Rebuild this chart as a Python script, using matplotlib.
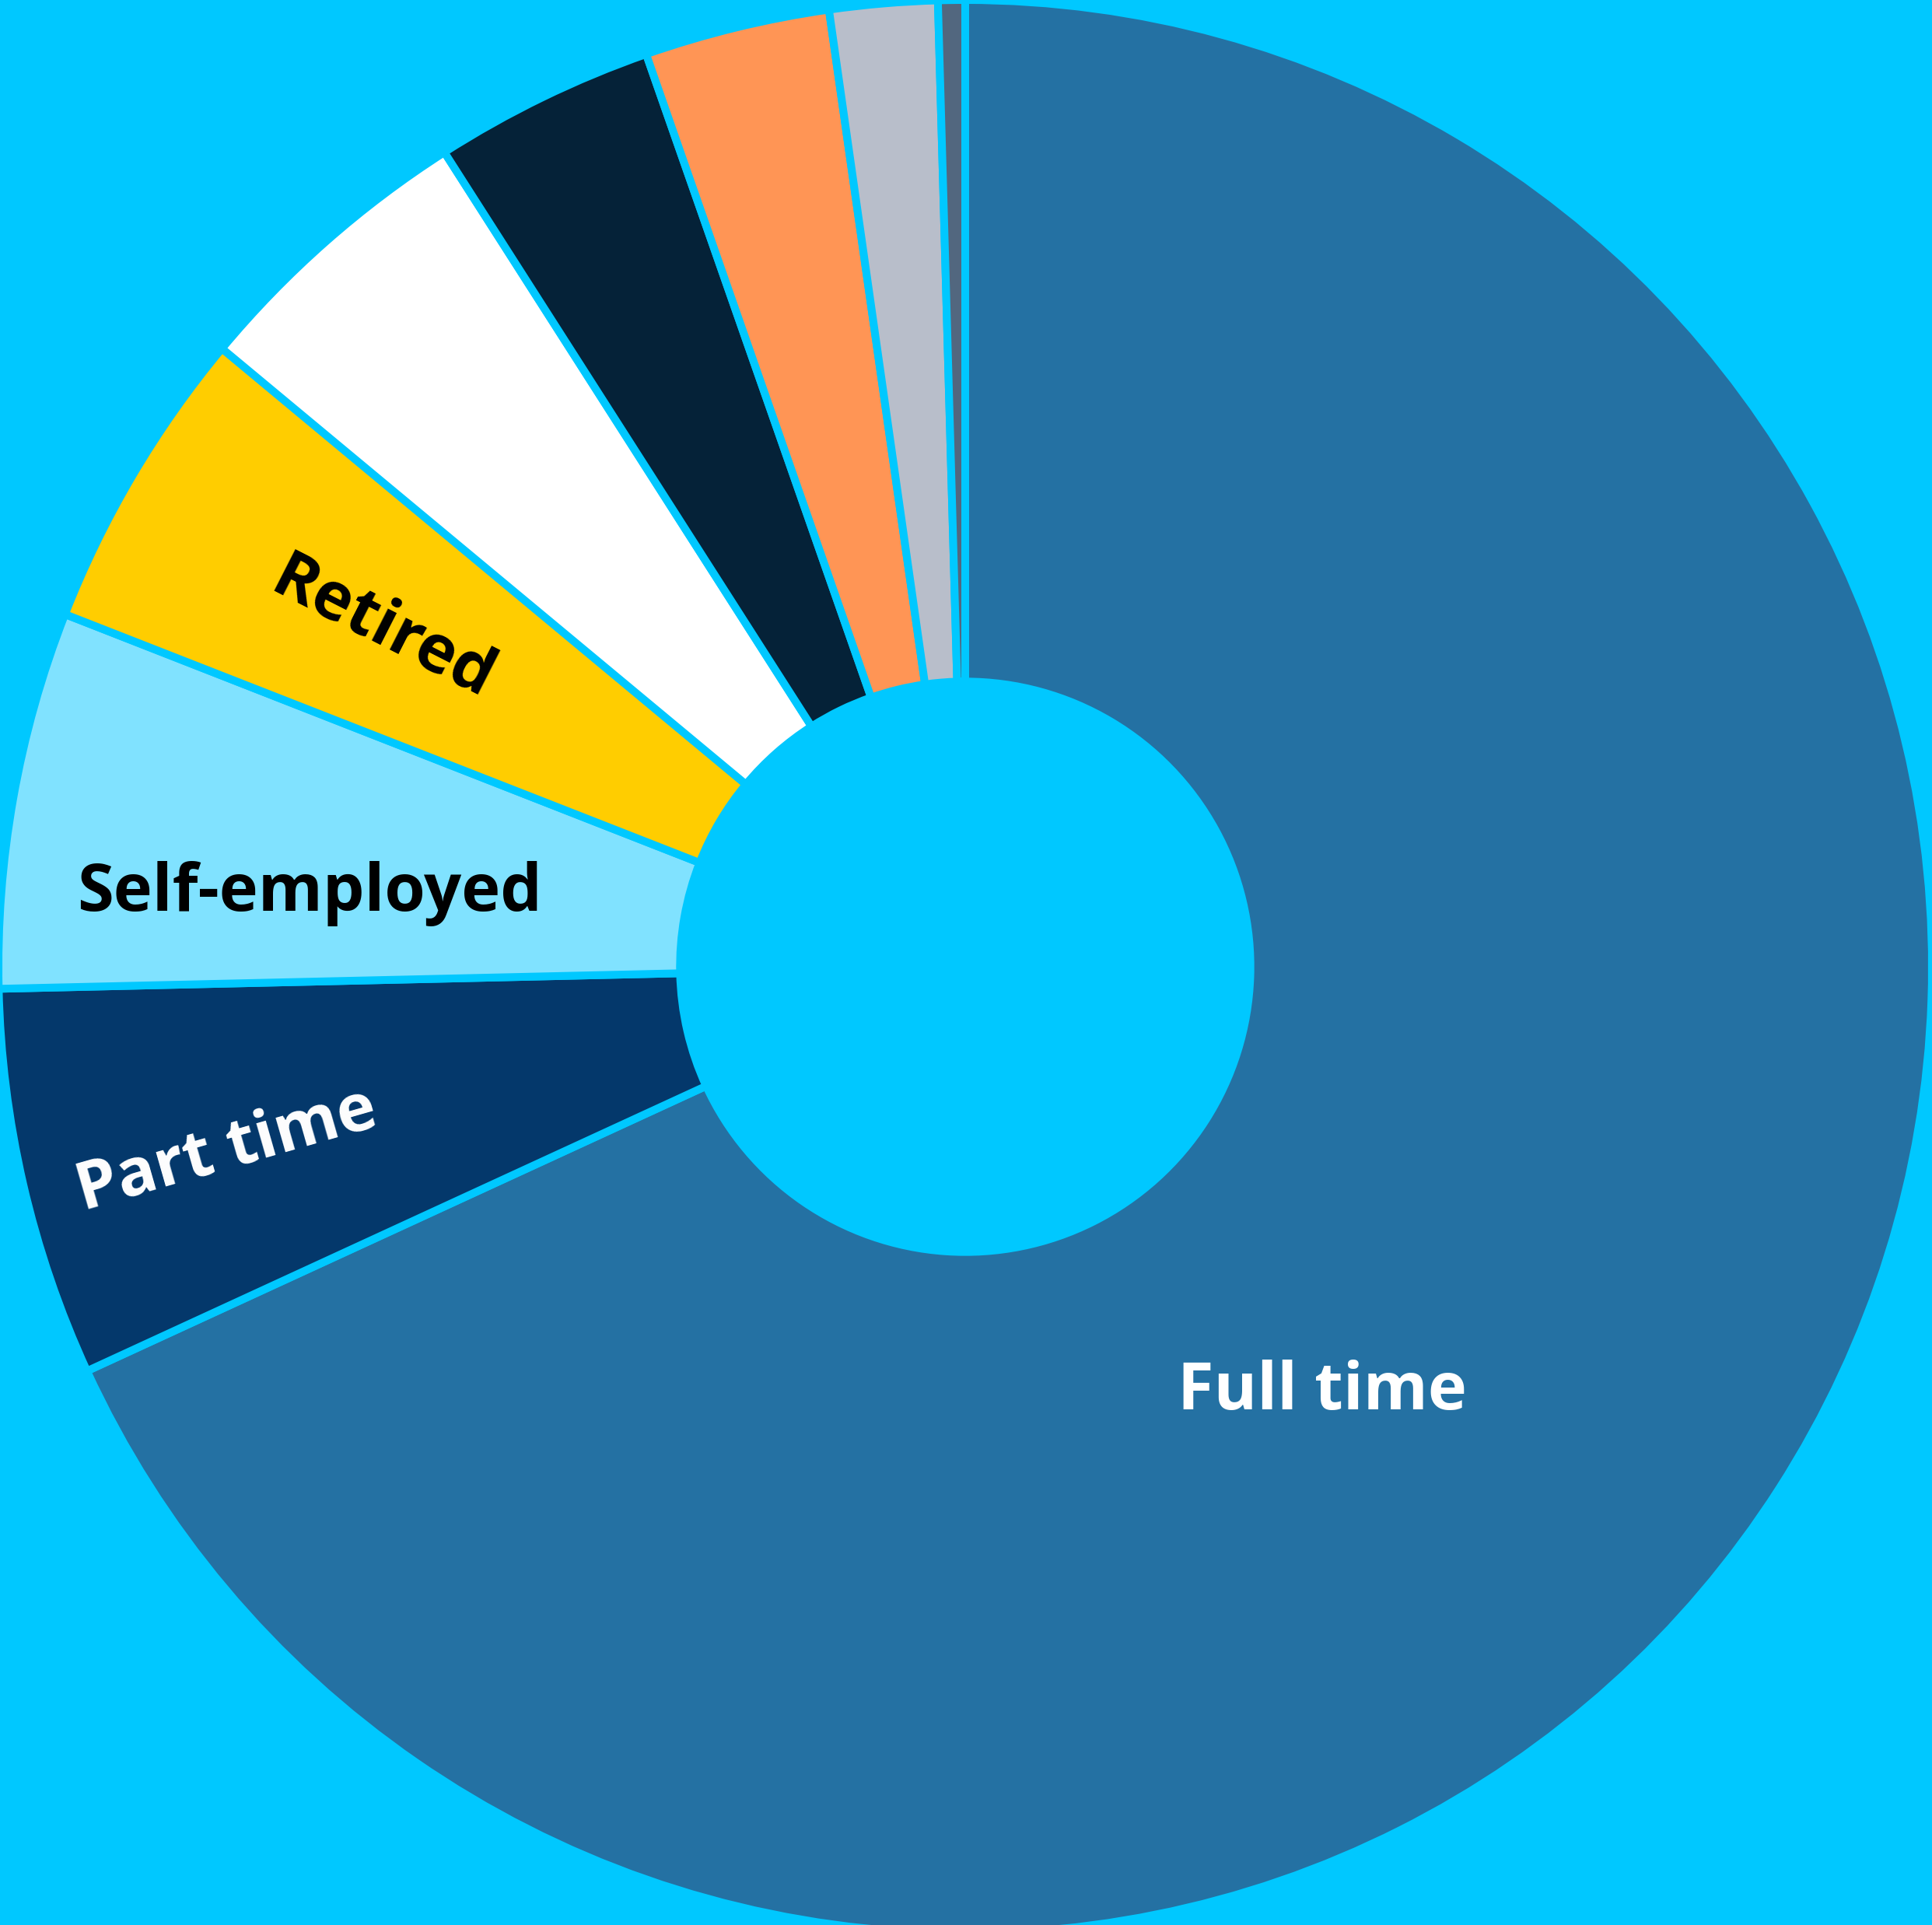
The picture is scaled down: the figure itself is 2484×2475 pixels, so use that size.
import matplotlib
matplotlib.use("Agg")
import matplotlib.pyplot as plt

# Employment status shares (percent of respondents)
categories = ["Full time", "Part time", "Self-employed", "Retired",
              "Student", "Unemployed", "Homemaker", "Unable to work", "Other"]
shares = [68.1, 6.5, 6.3, 5.1, 4.9, 3.7, 3.1, 1.8, 0.45]
colors = ["#2471A3", "#04386B", "#80E2FF", "#FFCD00", "#FFFFFF",
          "#052238", "#FF9555", "#B8BECA", "#52677F"]

# Labels shown inside the larger slices
label_names = ["Full time", "Part time", "Self-employed", "Retired"]
label_pos = [(0.369, -0.440), (-0.764, -0.191), (-0.678, 0.076), (-0.603, 0.349)]
label_rot = [0, 16, 0, -27]
label_color = ["white", "white", "black", "black"]

BG = "#00C8FF"
W, H, DPI = 2484, 2475, 100
cx_px, cy_px, r_px = 1241, 1243, 1243

fig = plt.figure(figsize=(W / DPI, H / DPI), dpi=DPI, facecolor=BG)
ax = fig.add_axes([0, 0, 1, 1])
ax.set_facecolor(BG)

ax.pie(shares, colors=colors, startangle=90, counterclock=False, radius=1.0,
       wedgeprops=dict(width=0.705, edgecolor=BG, linewidth=7.2))

for name, (x, y), rot, col in zip(label_names, label_pos, label_rot, label_color):
    ax.text(x, y, name, ha="center", va="center", rotation=rot,
            rotation_mode="anchor", color=col, fontsize=61,
            fontweight="bold", family=["Open Sans", "DejaVu Sans"])

ax.set_aspect("auto")
ax.set_xlim(-cx_px / r_px, (W - cx_px) / r_px)
ax.set_ylim(-(H - cy_px) / r_px, cy_px / r_px)
ax.axis("off")

fig.savefig("out.png", dpi=DPI, facecolor=BG)
